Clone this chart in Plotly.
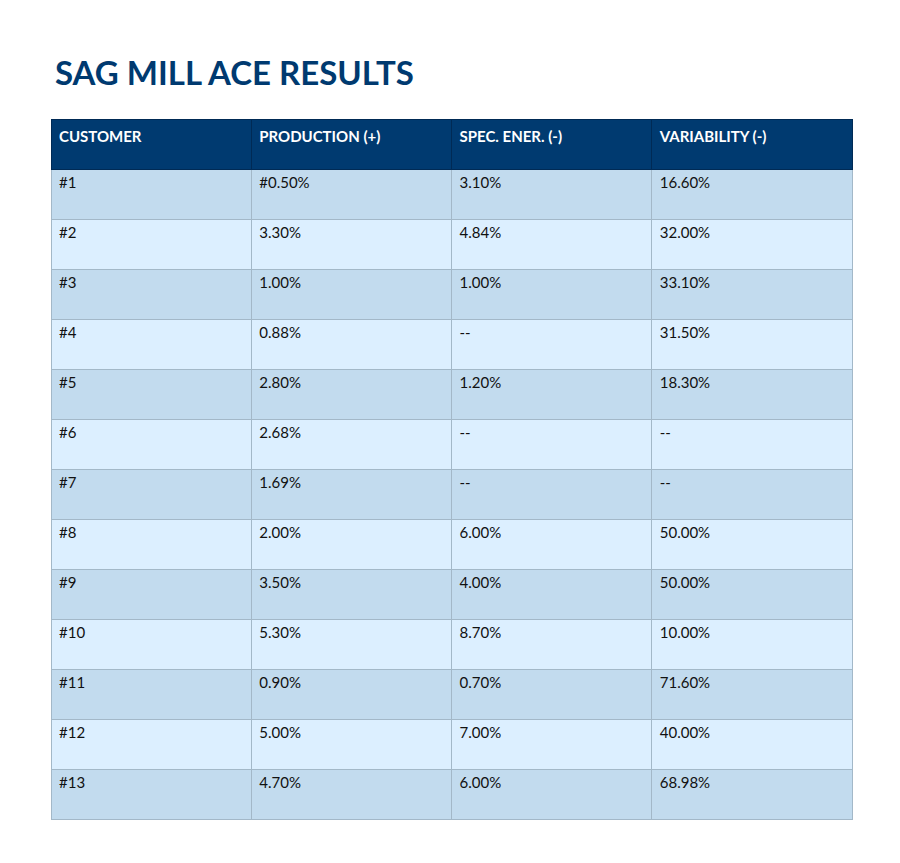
import plotly.graph_objects as go

headers = ["CUSTOMER", "PRODUCTION (+)", "SPEC. ENER. (-)", "VARIABILITY (-)"]
customers = ["#1","#2","#3","#4","#5","#6","#7","#8","#9","#10","#11","#12","#13"]
production = ["#0.50%","3.30%","1.00%","0.88%","2.80%","2.68%","1.69%","2.00%","3.50%","5.30%","0.90%","5.00%","4.70%"]
spec_ener = ["3.10%","4.84%","1.00%","--","1.20%","--","--","6.00%","4.00%","8.70%","0.70%","7.00%","6.00%"]
variability = ["16.60%","32.00%","33.10%","31.50%","18.30%","--","--","50.00%","50.00%","10.00%","71.60%","40.00%","68.98%"]

W, H = 900, 863
OFF = 8
row_colors = ["#c2dbee" if i % 2 == 0 else "#dcefff" for i in range(len(customers))]

fig = go.Figure(go.Table(
    domain=dict(x=[(51-OFF)/W, (852-OFF)/W], y=[1-(820-OFF)/H, 1-(119-OFF)/H]),
    columnwidth=[1, 1, 1, 1],
    header=dict(values=[f"<b>{h}</b>" for h in headers],
                fill_color="#003a70", line_color="#002a55",
                font=dict(family="Lato", size=15, color="white"),
                align="left", height=50),
    cells=dict(values=[customers, production, spec_ener, variability],
               fill_color=[row_colors]*4, line_color="#a3b8c8",
               font=dict(family="Lato", size=15, color="#111111"),
               align="left", height=50),
))
fig.add_annotation(text="<b>SAG MILL ACE RESULTS</b>", x=(53-OFF)/W, y=1-(72-OFF)/H,
                   xref="paper", yref="paper", xanchor="left", yanchor="middle",
                   showarrow=False, font=dict(family="Lato", size=33, color="#003a70"))
fig.update_layout(width=W, height=H, margin=dict(l=0, r=0, t=0, b=0),
                  paper_bgcolor="white")
fig.write_html("out.html")
